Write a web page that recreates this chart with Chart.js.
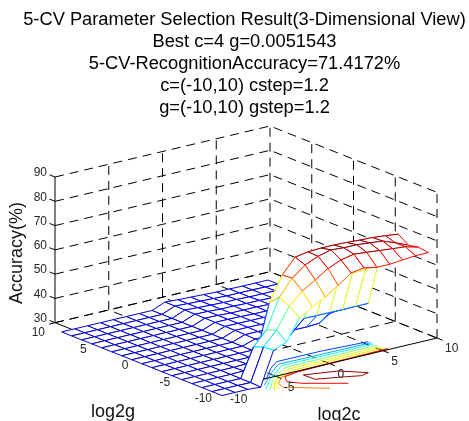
<!DOCTYPE html>
<html>
<head>
<meta charset="utf-8">
<title>5-CV Parameter Selection Result</title>
<script src="https://cdn.jsdelivr.net/npm/chart.js@4/dist/chart.umd.js"></script>
<style>
  html, body { margin: 0; padding: 0; background: #fff; }
  canvas { display: block; }
</style>
</head>
<body>
<canvas id="surfaceChart" width="469" height="421"></canvas>
<script>
const titleLines = [
  "5-CV Parameter Selection Result(3-Dimensional View)",
  "Best c=4 g=0.0051543",
  "5-CV-RecognitionAccuracy=71.4172%",
  "c=(-10,10) cstep=1.2",
  "g=(-10,10) gstep=1.2"
];
const zTicks = [30, 40, 50, 60, 70, 80, 90];
const cTicks = [-10, -5, 0, 5, 10];
const gTicks = [-10, -5, 0, 5, 10];

// grid of the search: log2c and log2g
const log2c = [-10, -8.8, -7.6, -6.4, -5.2, -4, -2.8, -1.6, -0.4, 0.8, 2, 3.2, 4.4, 5.6, 6.8, 8, 9.2];
const log2g = [-10, -8.8, -7.6, -6.4, -5.2, -4, -2.8, -1.6, -0.4, 0.8, 2, 3.2, 4.4, 5.6, 6.8, 8, 9.2];

// accuracy, one row per log2g value
const accuracy = [
  [27.3, 27.3, 27.3, 27.0, 41.0, 43.0, 51.6, 55.0, 57.8, 61.3, 65.2, 66.0, 65.0, 65.0, 65.5, 66.0, 66.0],
  [27.3, 27.3, 27.3, 27.2, 40.6, 46.3, 54.9, 59.9, 63.2, 66.6, 68.9, 70.0, 69.5, 69.0, 68.5, 68.0, 66.6],
  [27.3, 27.3, 27.3, 27.2, 39.0, 44.7, 57.0, 63.5, 67.7, 70.0, 71.4, 71.0, 71.0, 70.5, 70.0, 68.0, 65.8],
  [27.3, 27.3, 27.3, 27.3, 27.5, 33.0, 53.0, 63.2, 69.3, 70.2, 70.5, 70.5, 70.3, 70.0, 69.8, 69.3, 68.7],
  [27.3, 27.3, 27.3, 27.3, 27.3, 27.5, 31.0, 42.0, 50.0, 57.0, 60.0, 61.0, 61.0, 61.0, 61.0, 61.0, 61.3],
  [27.3, 27.3, 27.3, 27.3, 27.3, 27.3, 27.3, 28.0, 30.0, 33.0, 40.0, 48.0, 52.0, 52.0, 52.0, 52.0, 53.0],
  [27.3, 27.3, 27.3, 27.3, 27.3, 27.3, 27.3, 27.3, 29.0, 29.0, 30.0, 35.4, 35.3, 35.3, 35.3, 35.3, 35.3],
  [27.3, 27.3, 27.3, 27.3, 27.3, 27.3, 27.3, 27.3, 29.0, 29.0, 29.0, 29.0, 29.0, 29.3, 33.0, 33.0, 33.0],
  [27.3, 27.3, 27.3, 27.3, 27.3, 27.3, 27.3, 27.3, 29.2, 29.2, 29.2, 29.2, 29.2, 29.2, 29.2, 30.0, 30.0],
  [27.3, 27.3, 27.3, 27.3, 27.3, 27.3, 27.3, 27.3, 29.3, 29.3, 29.2, 29.2, 29.2, 29.2, 29.2, 29.0, 29.0],
  [27.3, 27.3, 27.3, 27.3, 27.3, 27.3, 27.3, 27.3, 29.3, 29.3, 29.2, 29.2, 29.0, 29.0, 29.0, 29.0, 29.0],
  [27.3, 27.3, 27.3, 27.3, 27.3, 27.3, 27.3, 27.3, 29.3, 29.3, 29.2, 29.0, 29.0, 29.0, 29.0, 28.8, 28.8],
  [27.3, 27.3, 27.3, 27.3, 27.3, 27.3, 27.3, 27.3, 29.4, 29.3, 29.0, 29.0, 29.0, 28.8, 28.8, 28.8, 28.6],
  [27.3, 27.3, 27.3, 27.3, 27.3, 27.3, 27.3, 27.3, 29.4, 29.3, 29.0, 29.0, 28.8, 28.8, 28.6, 28.6, 28.6],
  [27.3, 27.3, 27.3, 27.3, 27.3, 27.3, 27.3, 27.3, 29.5, 29.2, 29.0, 28.8, 28.8, 28.6, 28.6, 28.6, 28.5],
  [27.3, 27.3, 27.3, 27.3, 27.3, 27.3, 27.3, 27.3, 29.5, 29.2, 29.0, 28.8, 28.6, 28.6, 28.6, 28.5, 28.5],
  [27.3, 27.3, 27.3, 27.3, 27.3, 27.3, 27.3, 27.3, 29.5, 29.2, 29.0, 28.8, 28.6, 28.6, 28.5, 28.5, 28.5]
];

// contour lines under the surface, [log2c, log2g] points
const contourFloor = 20;
const contourLevels = [33, 38, 43, 48, 53, 55, 60, 66, 71];
const contour33 = [[9.03, -3.03], [4.94, -2.7], [0.75, -2.7], [-0.55, -3.69], [-2.27, -5.39], [-2.6, -5.43]];
const contour38 = [[9.08, -3.36], [0.46, -3.27], [-0.96, -4.39], [-2.17, -5.47], [-3.39, -6.56]];
const contour43 = [[8.97, -3.69], [0.46, -3.68], [-1.04, -4.82], [-2.32, -5.86], [-3.94, -7.43]];
const contour48 = [[8.98, -4.09], [0.36, -4.2], [-1, -5.07], [-2.43, -6.28], [-3.78, -7.75]];
const contour53 = [[8.97, -4.5], [0.36, -4.6], [-1, -5.37], [-2.46, -6.56], [-3.53, -7.94]];
const contour55 = [[9.02, -4.84], [0.31, -5.07], [-1.25, -5.68], [-2.51, -6.71], [-3.1, -8.07]];
const contour60 = [[9.07, -5.18], [0.16, -5.45], [-1.25, -5.87], [-2.32, -6.86], [-2.62, -7.84], [-0.04, -10.12]];
const contour66 = [[9.17, -5.25], [0.55, -5.56], [-0.96, -5.9], [-1.59, -6.93], [-0.96, -7.91], [1.76, -10]];
const contour71 = [[0.36, -6.41], [0.41, -7.75], [2.05, -8.41], [3.65, -9.15], [4.48, -8.88], [2.97, -7.22], [0.36, -6.41]];
const contours = [contour33, contour38, contour43, contour48, contour53, contour55, contour60, contour66, contour71];

// fixed 3D view, orthographic
const project = (c, g, z) => ({
  x: 222 + 10.75 * (c + 10) - 8.35 * (g + 10),
  y: 389 - 2.55 * (c + 10) - 3.315 * (g + 10) - 2.428 * (z - 30)
});

// matlab jet colormap
const jet = (z) => {
  const t = Math.min(1, Math.max(0, (z - 24) / 48));
  const part = (v) => Math.round(255 * Math.min(1, Math.max(0, v)));
  const r = part(Math.min(4 * t - 1.5, -4 * t + 4.5));
  const g = part(Math.min(4 * t - 0.5, -4 * t + 3.5));
  const b = part(Math.min(4 * t + 0.5, -4 * t + 2.5));
  return `rgb(${r},${g},${b})`;
};

const datasets = [];
const addLine = (points, opts) => {
  datasets.push(Object.assign({
    data: points,
    showLine: true,
    pointRadius: 0,
    borderWidth: 1,
    borderColor: "#000",
    fill: false,
    clip: false,
    order: -datasets.length
  }, opts));
};
const dashed = { borderDash: [9, 6] };

// back walls and floor
zTicks.forEach(z => {
  addLine([project(-10, 10, z), project(10, 10, z), project(10, -10, z)], dashed);
});
[-10, -5, 0, 5, 10].forEach(v => {
  if (v > -10) addLine([project(v, 10, 30), project(v, 10, 90)], dashed);
  if (v < 10) addLine([project(10, v, 30), project(10, v, 90)], dashed);
  if (v > -10) addLine([project(v, -10, 30), project(v, 10, 30)], dashed);
  if (v > -10) addLine([project(-10, v, 30), project(10, v, 30)], dashed);
});

// contours sit below the box
contours.forEach((line, k) => {
  addLine(line.map(p => project(p[0], p[1], contourFloor)), { borderColor: jet(contourLevels[k]) });
});

// solid axes and ticks
addLine([project(-10, 10, 30), project(-10, 10, 90)]);
addLine([project(-10, 10, 30), project(-10, -10, 30), project(10, -10, 30)]);
zTicks.forEach(z => addLine([project(-10, 10, z), project(-10, 10.66, z)]));
cTicks.forEach(c => addLine([project(c, -10, 30), project(c, -10.66, 30)]));
gTicks.forEach(g => addLine([project(-10, g, 30), project(-10.55, g, 30)]));

// mesh, far cells first with white faces so near cells hide them
for (let i = log2c.length - 2; i >= 0; i--) {
  for (let j = log2g.length - 2; j >= 0; j--) {
    const corner = (a, b) => project(log2c[a], log2g[b], accuracy[b][a]);
    const cell = [corner(i, j), corner(i + 1, j), corner(i + 1, j + 1), corner(i, j + 1), corner(i, j)];
    addLine(cell, { borderWidth: 0, borderColor: "rgba(0,0,0,0)", backgroundColor: "#fff", fill: "shape" });
    // each edge takes the colour of its lower index vertex
    const edgeColors = [accuracy[j][i], accuracy[j][i + 1], accuracy[j + 1][i], accuracy[j][i]].map(jet);
    addLine(cell, { segment: { borderColor: ctx => edgeColors[ctx.p0DataIndex] } });
  }
}

// tick labels and axis names, placed with the chart scales
const axisText = {
  id: "axisText",
  afterDraw(chart) {
    const { ctx, scales } = chart;
    const at = (p, dx, dy) => [scales.x.getPixelForValue(p.x) + dx, scales.y.getPixelForValue(p.y) + dy];
    ctx.save();
    ctx.fillStyle = "#262626";
    ctx.textBaseline = "middle";
    ctx.font = "12px 'Liberation Sans'";
    ctx.textAlign = "right";
    zTicks.forEach(z => {
      const [x, y] = at(project(-10, 10, z), -8, -4);
      ctx.fillText(String(z), x, y);
    });
    gTicks.forEach(g => {
      const [x, y] = at(project(-10, g, 30), -10, 10);
      ctx.fillText(String(g), x, y);
    });
    ctx.textAlign = "left";
    cTicks.forEach(c => {
      const [x, y] = at(project(c, -10, 30), 8, 11);
      ctx.fillText(String(c), x, y);
    });
    ctx.textAlign = "center";
    ctx.font = "18px 'Liberation Sans'";
    ctx.fillStyle = "#111";
    ctx.fillText("log2g", 113, 412);
    ctx.fillText("log2c", 339, 415);
    ctx.translate(17, 253);
    ctx.rotate(-Math.PI / 2);
    ctx.fillText("Accuracy(%)", 0, 0);
    ctx.restore();
  }
};

new Chart(document.getElementById("surfaceChart").getContext("2d"), {
  type: "scatter",
  data: { datasets: datasets },
  plugins: [axisText],
  options: {
    responsive: false,
    animation: false,
    events: [],
    layout: { padding: { left: 20 } },
    plugins: {
      legend: { display: false },
      tooltip: { enabled: false },
      title: {
        display: true,
        text: titleLines,
        color: "#000",
        font: { family: "'Liberation Sans'", size: 18.3, weight: "normal", lineHeight: "22px" },
        padding: { top: 9, bottom: 1 }
      }
    },
    scales: {
      x: { type: "linear", display: false, min: 20, max: 469 },
      y: { type: "linear", display: false, min: 120, max: 421, reverse: true }
    }
  }
});
</script>
</body>
</html>
